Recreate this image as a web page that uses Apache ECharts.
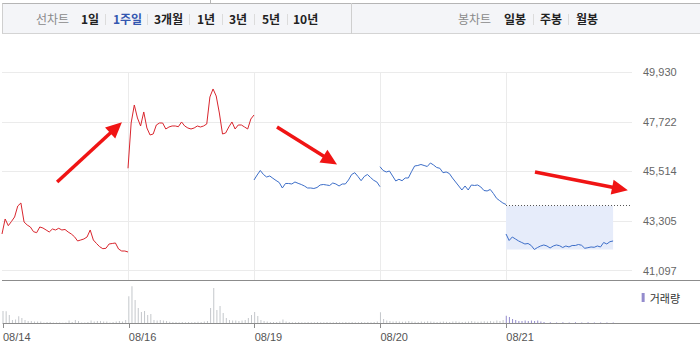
<!DOCTYPE html>
<html><head><meta charset="utf-8">
<script src="https://cdn.jsdelivr.net/npm/echarts@6/dist/echarts.min.js"></script>
<style>
html,body{margin:0;padding:0;background:#fff;width:700px;height:353px;overflow:hidden;}
#chart{position:absolute;left:0;top:0;width:700px;height:353px;z-index:1;}
#tabs{position:absolute;left:2px;top:3px;width:698px;height:31px;background:#f4f5f8;border-top:1px solid #b5b5b5;border-bottom:1px solid #d4d4d4;border-left:1px solid #cfcfcf;box-sizing:border-box;z-index:2;font-family:"Noto Sans CJK KR","Liberation Sans",sans-serif;}
#tabs span{position:absolute;top:0;height:29px;line-height:29px;font-size:12px;white-space:nowrap;}
#tabs .lbl{color:#8a8a8a;font-weight:normal;}
#tabs .it{color:#222;font-weight:bold;}
#tabs .on{color:#3457b0;}
#tabs .sep{position:absolute;top:10px;width:1px;height:11px;background:#dcdcdc;}
#tabs .div{position:absolute;top:-1px;width:1px;height:31px;background:#cfcfcf;}
#topline{position:absolute;left:210px;top:0;width:1px;height:3px;background:#b5b5b5;z-index:2;}
</style></head>
<body>
<div id="topline"></div>
<div id="tabs"></div>
<div id="chart"></div>
<script>
// ---- data ----
const days = ['08/14','08/16','08/19','08/20','08/21'];
const yTicks = [41097, 43305, 45514, 47722, 49930];
const prevClose = 43990;
const lineTabs = ['1일','1주일','3개월','1년','3년','5년','10년'];
const candleTabs = ['일봉','주봉','월봉'];
const lineLabel = '선차트';
const candleLabel = '봉차트';
const volName = '거래량';

const day1 = [42731,43399,43101,43288,43488,43978,44111,43266,43132,43043,42834,42789,43043,42998,42909,42820,42954,42909,42985,42909,42932,42820,42731,42611,42420,42464,42509,42598,42909,42464,42308,42166,42077,42095,42286,42308,42331,42063,41974,41974,41930];
const day2 = [45656,47673,48474,47896,47540,48163,47450,47139,47183,47584,47673,47673,47406,47495,47540,47540,47508,47718,47540,47450,47406,47450,47540,47495,47540,47629,48831,49187,48875,48118,47183,47228,47495,47718,47406,47584,47584,47495,47406,47851,48029];
const day3 = [45135,45358,45558,45380,45269,45314,45211,45113,45024,44779,44980,44980,44957,45046,44988,44935,44868,44779,44779,44757,44801,44913,44935,44913,44890,45002,44957,44868,44957,44957,45135,45380,45460,45291,45104,45291,45380,45247,45122,45046,44837];
const day4 = [45727,45558,45492,45536,45314,45091,45167,45104,45224,45224,45505,45759,45781,45825,45781,45736,45892,45803,45692,45656,45460,45492,45425,45224,45046,44868,44690,44868,44690,44913,44891,44913,44824,44668,44646,44713,44534,44321,44214,44111,44045];
const day5 = [42731,42442,42598,42509,42420,42353,42286,42308,42219,42041,42130,42197,42242,42197,42108,42197,42242,42210,42130,42197,42153,42219,42219,42264,42228,42095,42121,42153,42139,42197,42153,42353,42286,42388,42420];

const vol1 = [120,117,80,30,35,67,50,30,20,20,15,15,15,5,10,10,5,5,5,3,5,25,10,30,20,5,5,10,25,15,20,20,15,15,5,10,15,20,15,30];
const vol2 = [267,367,230,150,110,120,80,90,30,25,30,25,20,12,10,10,8,10,8,10,8,10,12,10,15,20,150,350,130,170,100,50,30,25,25,20,25,30,50,80];
const vol3 = [110,70,30,20,15,10,10,10,15,35,15,10,8,8,10,8,8,10,8,8,10,8,8,10,8,8,10,8,8,10,8,10,8,8,10,8,10,8,10,15];
const vol4 = [107,40,25,20,15,18,15,12,15,20,15,12,10,15,12,18,15,12,10,12,15,12,10,15,18,12,10,12,15,20,15,12,15,18,15,20,15,25,20,30];
const vol5 = [73,60,40,30,20,20,25,20,25,20,25,15,10,0,8,0,5,0,8,0,5,0,8,0,5,0,8,0,5,0,5,0,5,0,5];

// ---- tab bar (layout) ----
(function(){
  const tabs = document.getElementById('tabs');
  const lineX = [78,110,151,194,226,259,290];
  const lineSep = [102,144,186,219,251,284];
  const candX = [501,537,573];
  const candSep = [530,565];
  function add(cls, txt, x){const s=document.createElement('span');s.className=cls;s.textContent=txt;s.style.left=x+'px';tabs.appendChild(s);}
  function sep(x){const d=document.createElement('div');d.className='sep';d.style.left=x+'px';tabs.appendChild(d);}
  add('lbl', lineLabel, 33);
  lineTabs.forEach((t,i)=>add('it'+(i===1?' on':''), t, lineX[i]));
  lineSep.forEach(sep);
  const dv=document.createElement('div');dv.className='div';dv.style.left='348px';tabs.appendChild(dv);
  add('lbl', candleLabel, 455);
  candleTabs.forEach((t,i)=>add('it', t, candX[i]));
  candSep.forEach(sep);
})();

// ---- chart ----
const PER_DAY = 40;
const RED = '#d9262e', BLUE = '#3d6ec8', GRAY_BAR = '#c4c7cb', PURPLE = '#948ccd';
const pts = (arr, d) => arr.map((v, i) => [d * PER_DAY + i, v]);
const vols = [vol1, vol2, vol3, vol4, vol5];
const volData = [];
vols.forEach((arr, d) => arr.forEach((v, i) => {
  const x = d * PER_DAY + i;
  volData.push(d < 4 ? {value: [x, v], itemStyle: {color: GRAY_BAR}} : [x, v]);
}));
const day5Low = Math.min(...day5);
const lastX = 4 * PER_DAY + day5.length - 1;

const chart = echarts.init(document.getElementById('chart'), null, {renderer: 'svg'});
const lineBase = {type: 'line', xAxisIndex: 0, yAxisIndex: 0, symbol: 'none', showSymbol: false, lineStyle: {width: 1}, silent: true, z: 3};
const font = '"Liberation Sans", Arial, sans-serif';

chart.setOption({
  animation: false,
  backgroundColor: 'transparent',
  textStyle: {fontFamily: font},
  grid: [
    {left: 2, top: 72, width: 630, height: 208},
    {left: 2, top: 283, width: 698, height: 40}
  ],
  legend: {
    data: [volName], right: 15, top: 287, icon: 'rect', itemWidth: 3, itemHeight: 9, itemGap: 4,
    selectedMode: false, textStyle: {fontSize: 11, color: '#333', fontFamily: '"Noto Sans CJK KR", sans-serif'}
  },
  xAxis: [
    {type: 'value', gridIndex: 0, min: 0, max: 5 * PER_DAY, interval: PER_DAY,
     axisLine: {show: false}, axisTick: {show: false}, axisLabel: {show: false},
     splitLine: {show: true, showMinLine: false, showMaxLine: false, lineStyle: {color: '#ebebeb'}}},
    {type: 'value', gridIndex: 1, min: 0, max: 5 * PER_DAY * 698 / 630, interval: PER_DAY,
     axisLine: {show: true, lineStyle: {color: '#8c8c8c'}},
     axisTick: {show: true, length: 5, lineStyle: {color: '#8c8c8c'}, customValues: days.map((_, i) => i * PER_DAY)},
     axisLabel: {customValues: days.map((_, i) => i * PER_DAY), formatter: v => days[Math.round(v / PER_DAY)] || '',
       align: 'left', margin: 8, color: '#555', fontSize: 11},
     splitLine: {show: false}}
  ],
  yAxis: [
    {type: 'value', gridIndex: 0, position: 'right', min: 40683, max: 49943,
     axisLine: {show: false},
     axisTick: {show: false, customValues: yTicks},
     axisLabel: {customValues: yTicks, formatter: v => Math.round(v).toLocaleString('en-US'), color: '#666', fontSize: 11, margin: 11},
     splitLine: {show: true, lineStyle: {color: '#ebebeb'}}},
    {type: 'value', gridIndex: 1, min: 0, max: 400, show: false}
  ],
  graphic: [
    {type: 'line', shape: {x1: 2, y1: 280.5, x2: 700, y2: 280.5}, style: {stroke: '#8c8c8c', lineWidth: 1}, silent: true, z: 10}
  ],
  series: [
    Object.assign({}, lineBase, {name: 'd1', data: pts(day1, 0), lineStyle: {width: 1, color: RED},
      markLine: {silent: true, symbol: ['none', 'triangle'], symbolSize: [15, 16], label: {show: false},
        lineStyle: {color: '#f01414', width: 3.5, type: 'solid'}, emphasis: {disabled: true},
        data: [
          [{coord: [17.5, 45046]}, {coord: [36.2, 47464]}],
          [{coord: [87.3, 47495]}, {coord: [104.2, 46012]}],
          [{coord: [169.2, 45492]}, {coord: [196.2, 44748]}]
        ]}}),
    Object.assign({}, lineBase, {name: 'd2', data: pts(day2, 1), lineStyle: {width: 1, color: RED}}),
    Object.assign({}, lineBase, {name: 'd3', data: pts(day3, 2), lineStyle: {width: 1, color: BLUE}}),
    Object.assign({}, lineBase, {name: 'd4', data: pts(day4, 3), lineStyle: {width: 1, color: BLUE}}),
    Object.assign({}, lineBase, {name: 'd5', data: pts(day5, 4), lineStyle: {width: 1, color: BLUE},
      markArea: {silent: true, itemStyle: {color: '#e6ecfa'}, data: [[{coord: [4 * PER_DAY, prevClose]}, {coord: [lastX, day5Low]}]]},
      markLine: {silent: true, symbol: ['none', 'none'], label: {show: false}, lineStyle: {color: '#555', width: 1, type: [1, 2]},
        data: [[{coord: [4 * PER_DAY, prevClose]}, {coord: [5 * PER_DAY, prevClose]}]]}}),
    {type: 'bar', name: volName, xAxisIndex: 1, yAxisIndex: 1, data: volData, barWidth: 1, silent: true,
     itemStyle: {color: PURPLE}}
  ]
});
</script>
</body></html>
